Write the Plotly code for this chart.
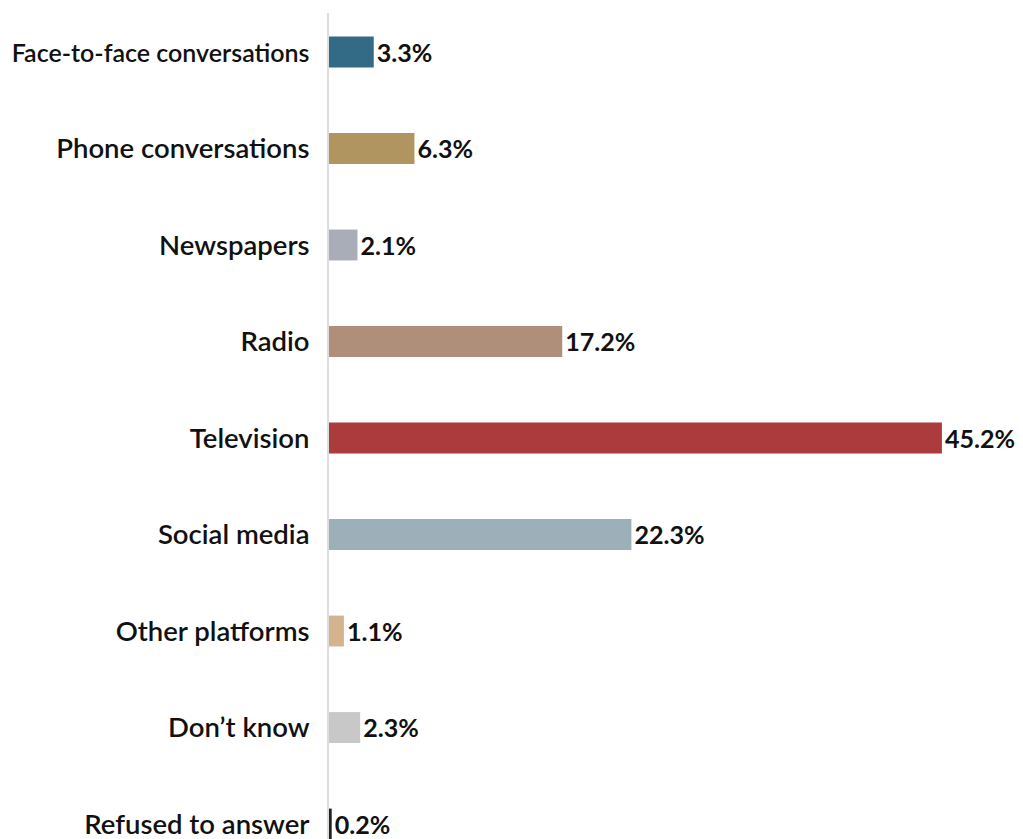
import plotly.graph_objects as go

categories = ["Face-to-face conversations", "Phone conversations", "Newspapers", "Radio",
              "Television", "Social media", "Other platforms", "Don\u2019t know", "Refused to answer"]
values = [3.3, 6.3, 2.1, 17.2, 45.2, 22.3, 1.1, 2.3, 0.2]
colors = ["#336B87", "#B09560", "#A9ADB8", "#AF8F7A", "#AC3B3D", "#9DAFB8", "#D4B48F", "#C8C8C8", "#222222"]

# the longest label is set slightly smaller so that it fits the left margin
tick_text = [f'<span style="font-size:25px">{c}</span>' if len(c) > 20 else c for c in categories]

fig = go.Figure(go.Bar(
    x=values, y=categories, orientation="h",
    marker=dict(color=colors, line=dict(width=0)),
    width=0.32,
    text=[f"{v:.1f}%" for v in values],
    textposition="outside",
    cliponaxis=False,
    textfont=dict(family="Lato", size=26, color="#111111", weight="bold"),
))

fig.update_layout(
    width=1023, height=839,
    margin=dict(l=329, r=16, t=13, b=0),
    paper_bgcolor="white", plot_bgcolor="white",
    showlegend=False,
    xaxis=dict(range=[0, 50], visible=False, showgrid=False, zeroline=False),
    yaxis=dict(
        type="category",
        range=[8.155, -0.404],
        tickmode="array", tickvals=categories, ticktext=tick_text,
        showline=True, linecolor="#DDDDDD", linewidth=2,
        showgrid=False, zeroline=False,
        ticks="", ticklabelstandoff=12,
        tickfont=dict(family="Lato", size=27.5, color="#111111", weight=600),
    ),
)

fig.write_html("out.html")
